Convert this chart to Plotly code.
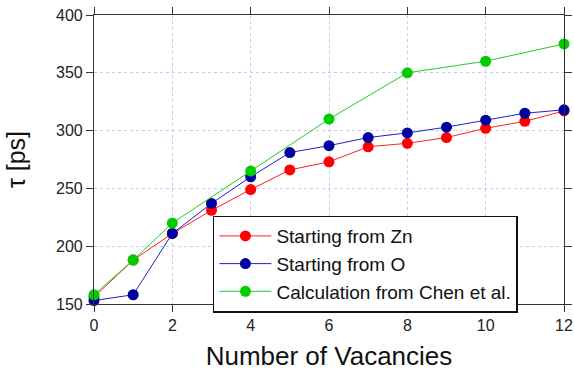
import plotly.graph_objects as go

vacancies = [0, 1, 2, 3, 4, 5, 6, 7, 8, 9, 10, 11, 12]
tau_zn = [156, 188, 211, 231, 249, 266, 273, 286, 289, 294, 302, 308, 317]
tau_o = [153, 158, 211, 237, 260, 281, 287, 294, 298, 303, 309, 315, 318]
chen_vac = [0, 1, 2, 4, 6, 8, 10, 12]
tau_chen = [158, 188, 220, 265, 310, 350, 360, 375]

names = ["Starting from Zn", "Starting from O", "Calculation from Chen et al."]
FONT = "Liberation Sans, Arial, sans-serif"

fig = go.Figure()
fig.add_trace(go.Scatter(x=vacancies, y=tau_zn, mode="lines+markers", name=names[0],
                         line=dict(color="#ff2020", width=1),
                         marker=dict(color="#ff0000", size=11), cliponaxis=False))
fig.add_trace(go.Scatter(x=vacancies, y=tau_o, mode="lines+markers", name=names[1],
                         line=dict(color="#2020c0", width=1),
                         marker=dict(color="#0000a0", size=11), cliponaxis=False))
fig.add_trace(go.Scatter(x=chen_vac, y=tau_chen, mode="lines+markers", name=names[2],
                         line=dict(color="#20cc20", width=1),
                         marker=dict(color="#00cc00", size=11), cliponaxis=False))

axis_common = dict(showline=True, linecolor="#333333", linewidth=1.2, mirror="ticks",
                   ticks="outside", ticklen=7, tickcolor="#333333", tickwidth=1.2,
                   showgrid=True, gridcolor="#c8c8f8", gridwidth=1, griddash="dot",
                   zeroline=False, automargin=False,
                   tickfont=dict(family=FONT, size=16, color="#222222"))

fig.update_xaxes(range=[0, 12], tickvals=[0, 2, 4, 6, 8, 10, 12],
                 title=dict(text="Number of Vacancies", font=dict(family=FONT, size=26, color="#111111"), standoff=14),
                 **axis_common)
fig.update_yaxes(range=[150, 400], tickvals=[150, 200, 250, 300, 350, 400],
                 title=dict(text="τ [ps]", font=dict(family=FONT, size=25, color="#111111"), standoff=23),
                 **axis_common)

fig.update_layout(
    width=574, height=371,
    margin=dict(l=94, r=10, t=15, b=67),
    plot_bgcolor="white", paper_bgcolor="white",
    showlegend=True,
    legend=dict(x=0.253, y=0.306, xanchor="left", yanchor="top",
                bgcolor="white", bordercolor="#111111", borderwidth=1.5,
                font=dict(family=FONT, size=19, color="#111111"),
                tracegroupgap=0, itemwidth=52),
)

fig.write_html("out.html", config={"displayModeBar": False},
               post_script="document.body.style.margin='0';")
